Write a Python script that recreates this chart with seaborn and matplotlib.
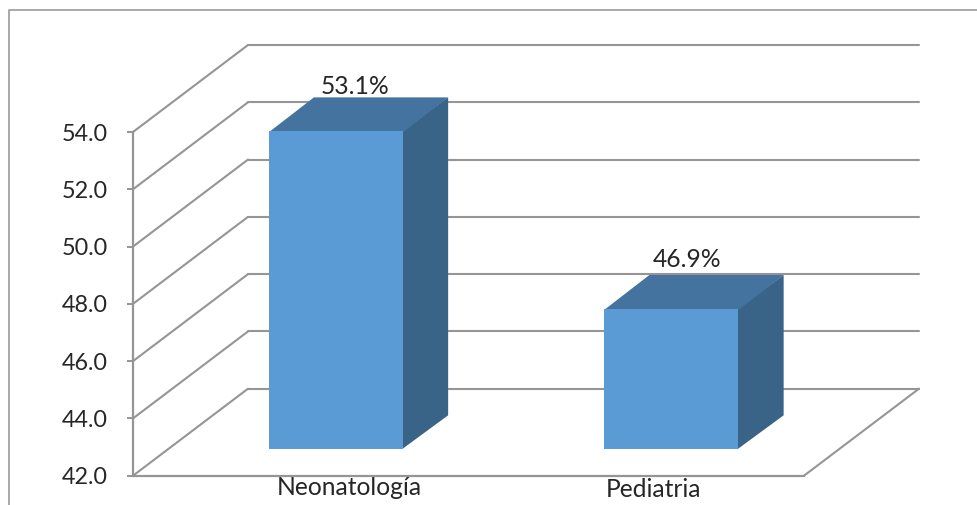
import matplotlib
matplotlib.use("Agg")
import matplotlib.pyplot as plt
from matplotlib.lines import Line2D
from matplotlib.patches import Polygon
from matplotlib.transforms import Affine2D
import pandas as pd
import seaborn as sns

# Data
services = ["Neonatología", "Pediatria"]
percent = [53.1, 46.9]
value_labels = ["53.1%", "46.9%"]
y_ticks = [42, 44, 46, 48, 50, 52, 54]

# Colours
FRONT = "#5B9BD5"
SIDE = "#3A6388"
TOP = "#44739F"
GRID = "#959595"
FRAME = "#A3A3A3"
TEXT = "#262626"

W, H = 978, 505
sns.set_theme(style="white")
plt.rcParams["font.family"] = ["Lato", "DejaVu Sans"]

fig = plt.figure(figsize=(W / 100, H / 100), dpi=100, facecolor="white")
ax = fig.add_axes([133 / W, 1 - 475.7 / H, 671 / W, 343.7 / H])
ax.patch.set_alpha(0)

df = pd.DataFrame({"Servicio": services, "Porcentaje": percent})
sns.barplot(data=df, x="Servicio", y="Porcentaje", ax=ax, width=0.4,
            color=FRONT, saturation=1, linewidth=0, zorder=3)
ax.set_xlim(-0.5, 1.5)
ax.set_ylim(42, 54)
ax.set_xlabel("")
ax.set_ylabel("")

# Depth of the box and of the columns, in data units
px_x = 2 / 671
px_y = 12 / 343.7
wall_dx, wall_dy = 115 * px_x, 87 * px_y
bar_dx, bar_dy = 45.3 * px_x, 34 * px_y
bar_shift = 35 * px_x
bar_lift = 26.4 * px_y

# Back wall, side wall and floor
line = dict(color=GRID, lw=1.5, clip_on=False, zorder=1, solid_capstyle="round")
for v in y_ticks:
    ax.plot([-0.5, -0.5 + wall_dx], [v, v + wall_dy], **line)
    ax.plot([-0.5 + wall_dx, 1.5 + wall_dx], [v + wall_dy, v + wall_dy], **line)
ax.plot([1.5, 1.5 + wall_dx], [42, 42 + wall_dy], **line)

# Front faces come from the seaborn bars; side and top faces extend them
bars = list(ax.patches)
seam_x, seam_y = 1 * px_x, 1 * px_y
for patch, value in zip(bars, percent):
    patch.set_x(patch.get_x() + bar_shift)
    patch.set_y(42 + bar_lift)
    patch.set_height(value - 42)
    patch.set_clip_on(False)
    x0, x1 = patch.get_x(), patch.get_x() + patch.get_width()
    y0, y1 = patch.get_y(), patch.get_y() + patch.get_height()
    ax.add_patch(Polygon([(x1 - seam_x, y0), (x1 + bar_dx, y0 + bar_dy),
                          (x1 + bar_dx, y1 + bar_dy), (x1 - seam_x, y1)],
                         facecolor=SIDE, edgecolor="none", clip_on=False, zorder=2.5))
    ax.add_patch(Polygon([(x0, y1 - seam_y), (x1, y1 - seam_y), (x1 + bar_dx, y1 + bar_dy),
                          (x0 + bar_dx, y1 + bar_dy)],
                         facecolor=TOP, edgecolor="none", clip_on=False, zorder=2.6))

# Value labels above the top faces
label_offsets = [(-3.5, 3.5), (-6.5, 8)]
for patch, text, off in zip(bars, value_labels, label_offsets):
    cx = patch.get_x() + patch.get_width() / 2 + bar_dx / 2
    cy = patch.get_y() + patch.get_height() + bar_dy
    ax.annotate(text, (cx, cy), xytext=off, textcoords="offset pixels",
                ha="center", va="baseline", fontsize=17.7, color=TEXT, zorder=5,
                annotation_clip=False)

# Axes
sns.despine(ax=ax, top=True, right=True)
for side in ("left", "bottom"):
    ax.spines[side].set_color(GRID)
    ax.spines[side].set_linewidth(1.6)
ax.set_yticks(y_ticks, [f"{v:.1f}" for v in y_ticks])
ax.tick_params(axis="y", length=4.3, width=1.4, color=GRID, pad=13.7,
               labelsize=16.8, labelcolor=TEXT, left=True)
ax.set_xticks([(349 - 133) * px_x - 0.5, (654 - 133) * px_x - 0.5], services)
ax.tick_params(axis="x", length=0, pad=0, labelsize=17.7, labelcolor=TEXT)
for tick, drop in zip(ax.get_xticklabels(), (19.3, 21.3)):
    tick.set_va("baseline")
    tick.set_transform(tick.get_transform() + Affine2D().translate(0, -drop))

# Chart frame
fig.add_artist(Line2D([8.5 / W, 8.5 / W, 1], [0, 1 - 9.5 / H, 1 - 9.5 / H],
                      color=FRAME, lw=1.3, transform=fig.transFigure))

fig.savefig("out.png", dpi=100)
